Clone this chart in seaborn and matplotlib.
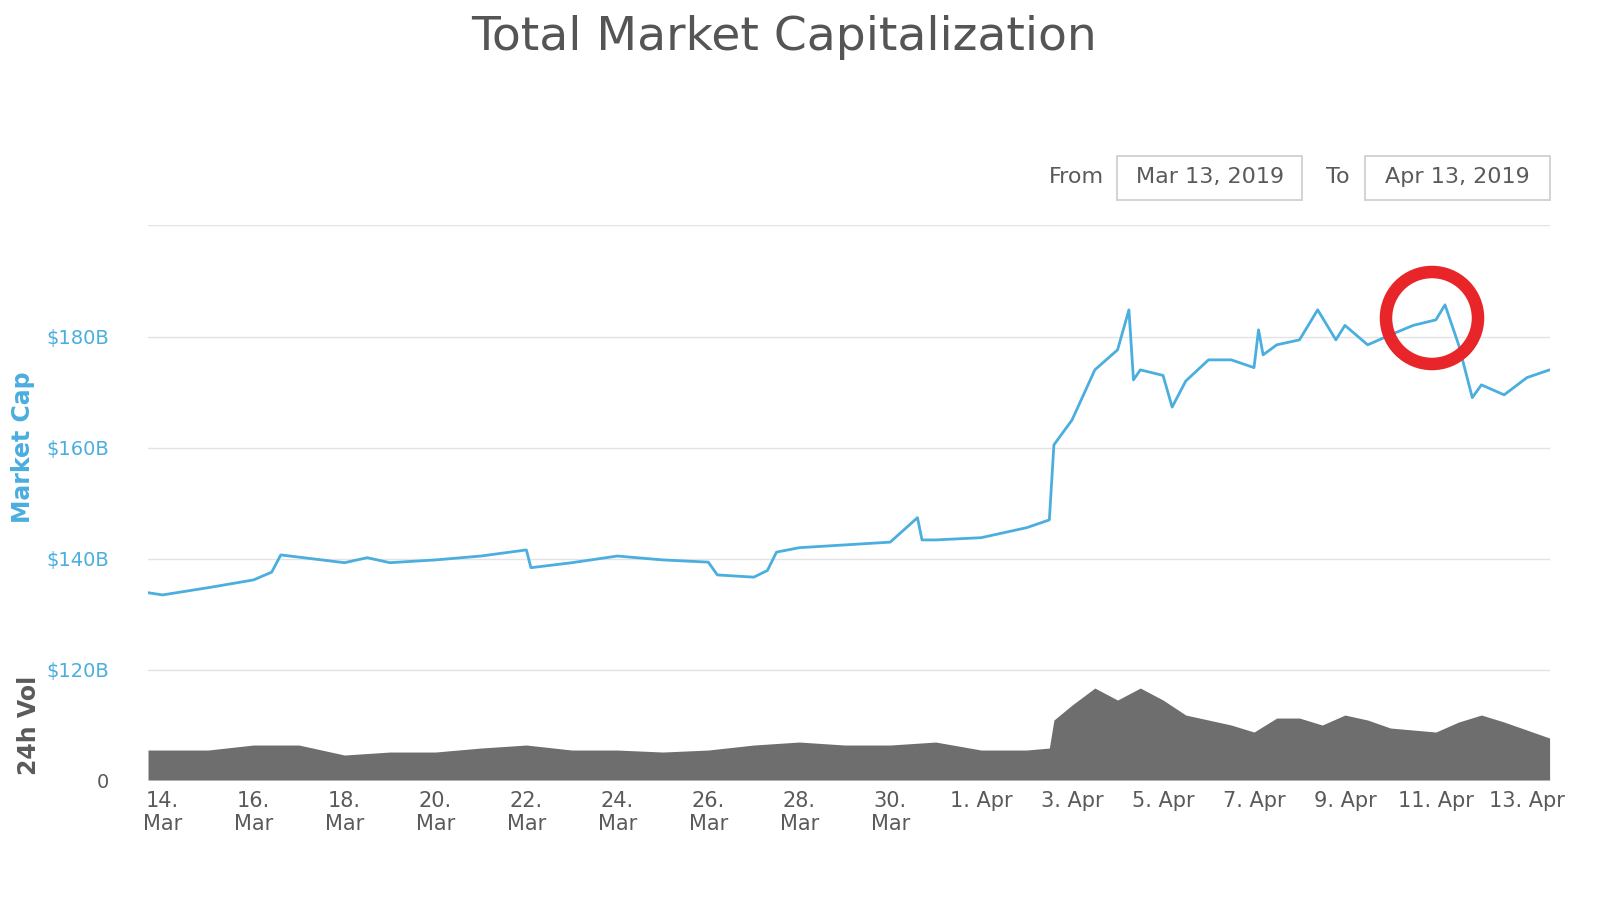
import numpy as np
import pandas as pd
import seaborn as sns
import matplotlib.pyplot as plt
from matplotlib.patches import Ellipse, Rectangle

# days since Mar 13, 2019
cap_days = [0.68, 1.0, 2.0, 3.0, 3.4, 3.6, 4.0, 5.0, 5.5, 6.0, 7.0, 8.0, 9.0, 9.1, 10.0, 11.0, 12.0,
            13.0, 13.2, 14.0, 14.3, 14.5, 15.0, 16.0, 17.0, 17.6, 17.7, 18.0, 19.0, 20.0, 20.5, 20.6,
            21.0, 21.5, 22.0, 22.25, 22.35, 22.5, 23.0, 23.2, 23.5, 24.0, 24.5, 25.0, 25.1, 25.2,
            25.5, 26.0, 26.4, 26.8, 27.0, 27.5, 28.0, 28.5, 29.0, 29.2, 29.5, 29.8, 30.0, 30.5,
            31.0, 31.5]
cap_vals = [133.9, 133.5, 134.8, 136.2, 137.6, 140.7, 140.3, 139.3, 140.2, 139.3, 139.8, 140.5, 141.6,
            138.4, 139.3, 140.5, 139.8, 139.4, 137.1, 136.7, 137.9, 141.2, 142.0, 142.5, 143.0,
            147.4, 143.4, 143.4, 143.8, 145.6, 147.0, 160.5, 165.0, 174.0, 177.6, 184.8, 172.2,
            174.0, 173.0, 167.3, 172.0, 175.8, 175.8, 174.4, 181.2, 176.7, 178.5, 179.4, 184.8,
            179.4, 182.0, 178.5, 180.3, 182.0, 183.0, 185.7, 178.5, 169.0, 171.3, 169.5, 172.6, 174.0]

vol_days = [0.68, 2, 3, 4, 5, 6, 7, 8, 9, 10, 11, 12, 13, 14, 15, 16, 17, 18, 19, 20, 20.5, 20.6,
            21, 21.5, 22, 22.5, 23, 23.5, 24, 24.5, 25, 25.5, 26, 26.5, 27, 27.5, 28, 28.5, 29,
            29.5, 30, 30.5, 31, 31.5]
vol_vals = [15, 15, 17.5, 17.5, 12.5, 14, 14, 16, 17.5, 15, 15, 14, 15, 17.5, 19, 17.5, 17.5, 19,
            15, 15, 16, 30, 37.5, 46, 40, 46, 40, 32.5, 30, 27.5, 24, 31, 31, 27.5, 32.5, 30, 26,
            25, 24, 29, 32.5, 29, 25, 21]

tick_days = list(range(1, 32, 2))
tick_labels = ["14.\nMar", "16.\nMar", "18.\nMar", "20.\nMar", "22.\nMar", "24.\nMar", "26.\nMar",
               "28.\nMar", "30.\nMar", "1. Apr", "3. Apr", "5. Apr", "7. Apr", "9. Apr",
               "11. Apr", "13. Apr"]

cap = pd.DataFrame({"day": cap_days, "cap": cap_vals})
vol = pd.DataFrame({"day": vol_days, "vol": vol_vals})

sns.set_theme(style="white")
fig = plt.figure(figsize=(16, 9), dpi=100)
blue = "#4aaede"
lab = "#5a5a5a"

ax = fig.add_axes([0.0925, 0.2556, 0.876, 0.494])
sns.lineplot(data=cap, x="day", y="cap", color=blue, lw=2, ax=ax)
ax.set_xlim(0.68, 31.5)
ax.set_ylim(120, 200)
ax.set_yticks([120, 140, 160, 180, 200])
ax.set_yticklabels(["$120B", "$140B", "$160B", "$180B", ""], color=blue, fontsize=14)
ax.tick_params(axis="y", pad=28, length=0)
ax.set_xticks([])
ax.grid(axis="y", color="#e3e3e3", lw=1)
for s in ax.spines.values():
    s.set_visible(False)
ax.set_xlabel("")
ax.set_ylabel("Market Cap", color=blue, fontsize=17, fontweight="bold", labelpad=8)

axv = fig.add_axes([0.0925, 0.1333, 0.876, 0.1222])
axv.fill_between(vol["day"], vol["vol"], color="#6e6e6e", lw=0)
axv.set_xlim(0.68, 31.5)
axv.set_ylim(0, 55)
axv.set_yticks([0])
axv.set_yticklabels(["0"], color=lab, fontsize=14)
axv.tick_params(axis="y", pad=28, length=0)
axv.set_xticks(tick_days)
axv.set_xticklabels(tick_labels, color=lab, fontsize=15)
axv.tick_params(axis="x", length=0, pad=8)
for s in axv.spines.values():
    s.set_visible(False)
axv.axhline(55, color="#e3e3e3", lw=1)
axv.set_ylabel("24h Vol", color=lab, fontsize=17, fontweight="bold", labelpad=40)

fig.text(0.49, 0.958, "Total Market Capitalization", ha="center", va="center",
         fontsize=34, color="#555555")

# date range boxes
fig.text(0.673, 0.803, "From", ha="center", va="center", fontsize=16, color=lab)
fig.text(0.836, 0.803, "To", ha="center", va="center", fontsize=16, color=lab)
for x0, w, txt in [(0.698, 0.116, "Mar 13, 2019"), (0.853, 0.116, "Apr 13, 2019")]:
    fig.patches.append(Rectangle((x0, 0.778), w, 0.0489, transform=fig.transFigure,
                                 fill=False, ec="#cccccc", lw=1.2))
    fig.text(x0 + w / 2, 0.803, txt, ha="center", va="center", fontsize=16, color=lab)

fig.patches.append(Ellipse((1432 / 1600, 1 - 318 / 900), 92 / 1600, 92 / 900,
                           transform=fig.transFigure, fill=False, ec="#e8262a", lw=9))

fig.savefig("out.png", dpi=100)
